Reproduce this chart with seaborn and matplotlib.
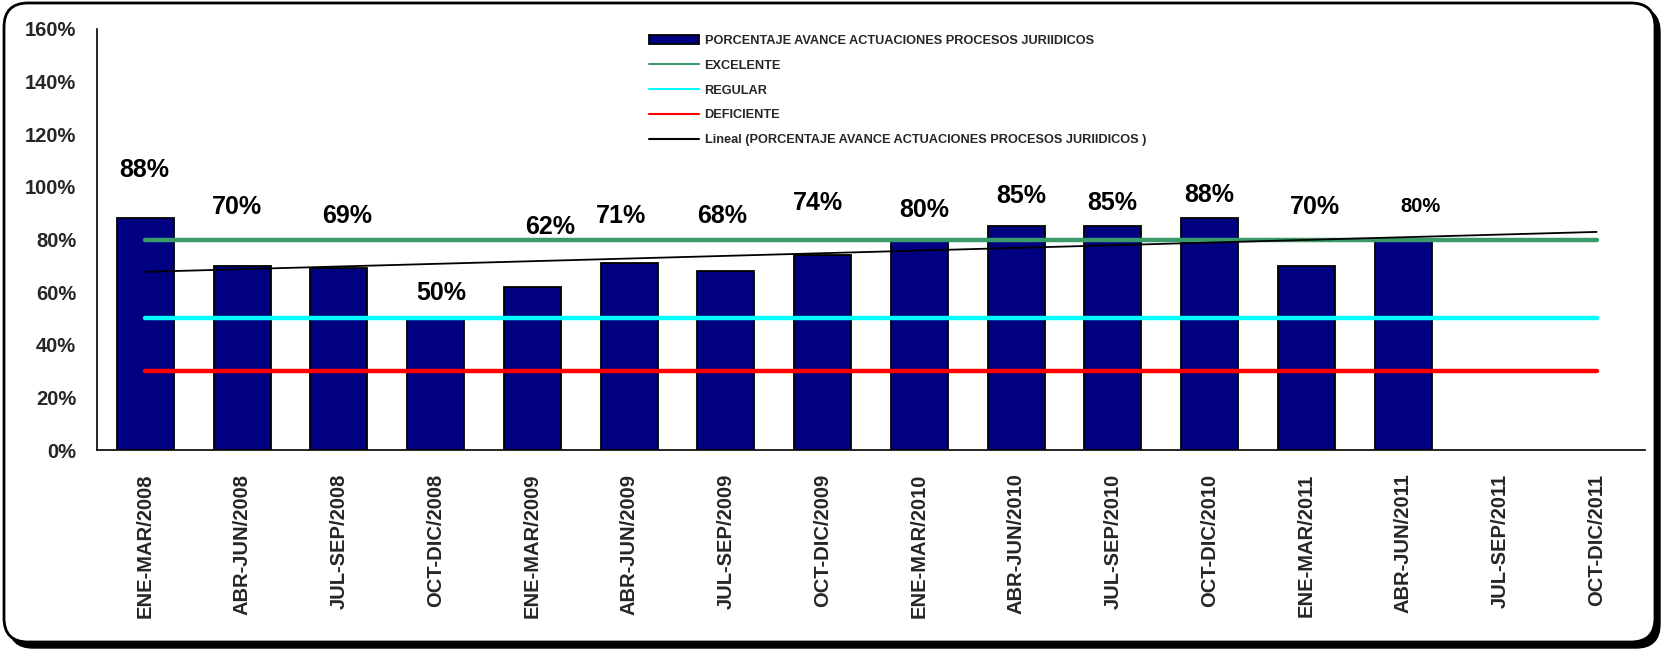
import matplotlib
matplotlib.use("Agg")
import matplotlib.pyplot as plt
import numpy as np
import pandas as pd
import seaborn as sns
from matplotlib.lines import Line2D
from matplotlib.patches import Patch, FancyBboxPatch

# Data
periodos = ["ENE-MAR/2008", "ABR-JUN/2008", "JUL-SEP/2008", "OCT-DIC/2008",
            "ENE-MAR/2009", "ABR-JUN/2009", "JUL-SEP/2009", "OCT-DIC/2009",
            "ENE-MAR/2010", "ABR-JUN/2010", "JUL-SEP/2010", "OCT-DIC/2010",
            "ENE-MAR/2011", "ABR-JUN/2011", "JUL-SEP/2011", "OCT-DIC/2011"]
avance = [88, 70, 69, 50, 62, 71, 68, 74, 80, 85, 85, 88, 70, 80]
umbral_nombres = ["EXCELENTE", "REGULAR", "DEFICIENTE"]
umbral_valores = [80, 50, 30]
serie_nombre = "PORCENTAJE AVANCE ACTUACIONES PROCESOS JURIIDICOS"

# Hand placed labels in the original (y in %, x shift in categories)
etiqueta_y = [106.4, 92.4, 88.9, 59.7, 84.8, 88.9, 88.9, 93.9, 91.2, 96.5, 93.9, 96.9, 92.4, 92.4]
etiqueta_dx = [-0.01, -0.05, 0.09, 0.06, 0.18, -0.08, -0.04, -0.05, 0.05, 0.05, -0.01, 0.0, 0.09, 0.18]
etiqueta_size = [18] * 13 + [14.5]

umbral_colores = ["#3A9A6A", "#00FFFF", "#FF0000"]
navy = "#000080"

sns.set_style("white")
plt.rcParams["font.family"] = ["Liberation Sans", "DejaVu Sans"]
plt.rcParams["font.weight"] = "bold"

df = pd.DataFrame({"periodo": periodos[:len(avance)], "avance": avance})

fig = plt.figure(figsize=(16.61, 6.5), dpi=100)

# rounded frame with shadow
bg = fig.add_axes([0, 0, 1, 1], zorder=-5)
bg.set_xlim(0, 1661)
bg.set_ylim(0, 650)
bg.axis("off")
bg.add_patch(FancyBboxPatch((9, 2), 1651, 640, boxstyle="round,pad=0,rounding_size=24",
                            facecolor="black", edgecolor="black", lw=1))
bg.add_patch(FancyBboxPatch((4, 8), 1651, 639, boxstyle="round,pad=0,rounding_size=24",
                            facecolor="white", edgecolor="black", lw=2))

ax = fig.add_axes([97 / 1661, 1 - 450 / 650, 1548 / 1661, 421 / 650])
ax.set_facecolor("none")

sns.barplot(data=df, x="periodo", y="avance", order=periodos, color=navy,
            saturation=1, errorbar=None, width=0.59, edgecolor="black",
            linewidth=1.3, ax=ax, zorder=2)

xs = np.arange(len(periodos))
for nombre, valor, color in zip(umbral_nombres, umbral_valores, umbral_colores):
    ax.plot([xs[0], xs[-1]], [valor, valor], color=color, lw=3.2,
            solid_capstyle="round", zorder=3)

# linear trendline
coef = np.polyfit(np.arange(len(avance)), avance, 1)
ax.plot(xs, np.polyval(coef, xs), color="black", lw=1.3, zorder=4)

for i, v in enumerate(avance):
    ax.text(i + etiqueta_dx[i], etiqueta_y[i], f"{v}%", ha="center", va="center",
            fontsize=etiqueta_size[i], fontweight="bold", color="black")

ax.set_xlim(-0.5, len(periodos) - 0.5)
ax.set_ylim(0, 160)
ax.set_yticks(range(0, 161, 20))
ax.set_yticklabels([f"{t}%" for t in range(0, 161, 20)], fontsize=14.5, fontweight="bold")
ax.set_xticks(xs)
ax.set_xticklabels(periodos, rotation=90, fontsize=14.5, fontweight="bold")
ax.set_xticks(np.arange(-0.5, len(periodos), 1), minor=True)
ax.tick_params(axis="x", which="major", length=0, pad=17)
ax.tick_params(axis="x", which="minor", length=4, color="#808080", width=1.2)
ax.tick_params(axis="y", length=5, color="#808080", width=1.2, pad=10)
ax.set_xlabel("")
ax.set_ylabel("")
for s in ["top", "right"]:
    ax.spines[s].set_visible(False)
for s in ["left", "bottom"]:
    ax.spines[s].set_color("black")
    ax.spines[s].set_linewidth(1.2)

handles = [Patch(facecolor=navy, edgecolor="black", lw=1.3)]
handles += [Line2D([], [], color=c, lw=1.5) for c in umbral_colores]
handles += [Line2D([], [], color="black", lw=1.5)]
labels = [serie_nombre] + umbral_nombres + [f"Lineal ({serie_nombre} )"]
fig.legend(handles, labels, loc="upper left", bbox_to_anchor=(649 / 1661, 1 - 35 / 650),
           frameon=False, prop={"weight": "bold", "size": 9.2},
           handlelength=3.9, handletextpad=0.45, labelspacing=1.0,
           borderpad=0, borderaxespad=0, handleheight=0.6)

fig.savefig("out.png", dpi=100)
